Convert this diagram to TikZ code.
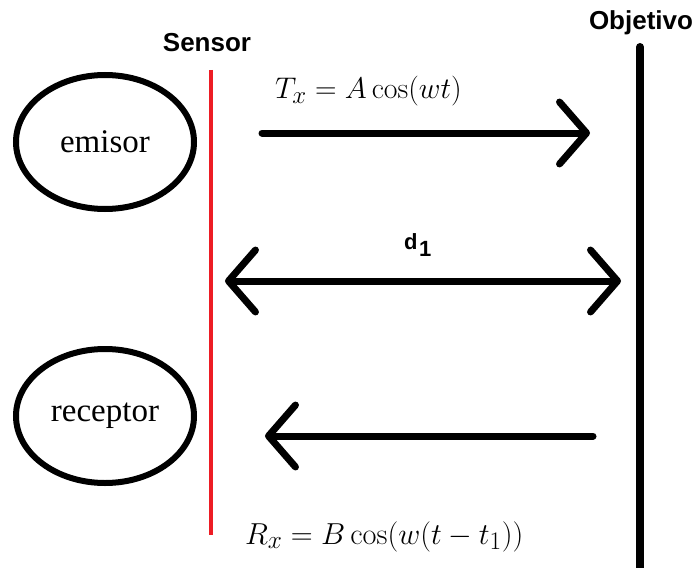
\documentclass[tikz,border=0pt]{standalone}
\usepackage{graphicx}
\usepackage[no-math]{fontspec}
\newfontfamily\timesfont{Liberation Serif}
\setsansfont{Liberation Sans}
\usetikzlibrary{shapes.geometric,arrows.meta}
\definecolor{sensorred}{HTML}{ED1C24}
\begin{document}
\begin{tikzpicture}[x=1pt,y=-1pt,
  blob/.style={draw=black, line width=6pt, ellipse, inner sep=0pt,
    minimum width=178pt, minimum height=134pt, font=\timesfont\fontsize{33}{36}\selectfont},
  lbl/.style={font=\sffamily\bfseries\fontsize{26}{28}\selectfont, inner sep=0pt},
  eq/.style={font=\fontsize{24.88}{30}\selectfont, inner sep=0pt, anchor=base west},
  barb/.tip={Straight Barb[length=27pt, width=62pt, line cap=round, line join=round]},
  sig/.style={line width=7pt, line cap=round},
]
\useasboundingbox (0,0) rectangle (695,567);
% ellipses
\node[blob] (em) at (105,142) {emisor};
\node[blob] (re) at (105,416) {receptor};
% vertical lines
\coordinate (s1) at (211,70);
\coordinate (s2) at (211,535);
\draw[sensorred, line width=4pt] (s1) -- (s2);
\coordinate (o1) at (640,47);
\coordinate (o2) at (640,575);
\draw[line width=8pt, line cap=round] (o1) -- (o2);
% labels
\node[lbl] (sen) at (207,43) {Sensor};
\node[lbl] (obj) at (641,23) {Objetivo};
% arrows
\coordinate (t1) at (262,133);
\coordinate (t2) at (590,133);
\draw[sig, -barb] (t1) -- (t2);
\coordinate (d1) at (225,281);
\coordinate (d2) at (621,281);
\draw[sig, barb-barb] (d1) -- (d2);
\coordinate (r1) at (593,436);
\coordinate (r2) at (265,436);
\draw[sig, -barb] (r1) -- (r2);
% texts
\node[font=\sffamily\bfseries\fontsize{22}{24}\selectfont, inner sep=0pt, anchor=base west] (dl) at (404,249) {d\kern1.5pt\raisebox{-7pt}{1}};
\node[eq] (tx) at (275,99) {\scalebox{1.2}{$T_x = A\cos(wt)$}};
\node[eq] (rx) at (245,544) {\scalebox{1.22}{$R_x = B\cos\bigl(w(t-t_1)\bigr)$}};
\end{tikzpicture}
\end{document}
